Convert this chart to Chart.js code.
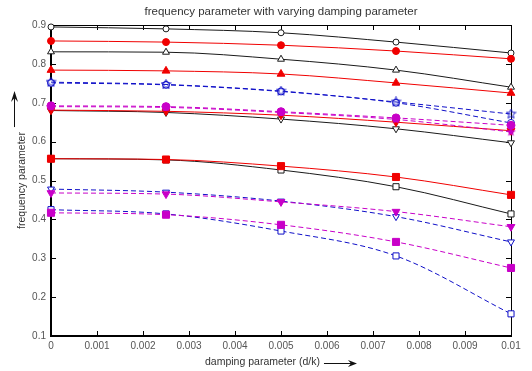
<!DOCTYPE html>
<html lang="en">
  <head>
    <meta charset="UTF-8" />
    <meta name="viewport" content="width=device-width, initial-scale=1.0" />
    <title>Frequency parameter vs damping parameter</title>
    <style>
      html,
      body {
        margin: 0;
        padding: 0;
        background: #fff;
      }
    </style>
    <script src="https://cdn.jsdelivr.net/npm/chart.js"></script>
  </head>
  <body>
    <canvas id="freqChart" width="532" height="371"></canvas>
    <script>
      // damping parameter (d/k) at which the frequency parameter was computed
      var damping = [0, 0.0025, 0.005, 0.0075, 0.01];

      var xTicks = [0, 0.001, 0.002, 0.003, 0.004, 0.005, 0.006, 0.007, 0.008, 0.009, 0.01];
      var yTicks = [0.1, 0.2, 0.3, 0.4, 0.5, 0.6, 0.7, 0.8, 0.9];

      // solid curves (black open markers / red filled markers)
      var blackCircle = [0.895, 0.89, 0.88, 0.856, 0.828];
      var redCircle = [0.859, 0.856, 0.848, 0.833, 0.813];
      var blackTriUp = [0.831, 0.83, 0.812, 0.784, 0.74];
      var redTriUp = [0.784, 0.782, 0.774, 0.751, 0.725];
      var blackTriDown = [0.68, 0.675, 0.658, 0.633, 0.597];
      var redTriDown = [0.681, 0.678, 0.668, 0.65, 0.628];
      var blackSquare = [0.556, 0.553, 0.527, 0.484, 0.414];
      var redSquare = [0.556, 0.554, 0.537, 0.509, 0.463];

      // dashed curves (blue open markers / magenta filled markers)
      var bluePentagram = [0.753, 0.747, 0.73, 0.702, 0.671];
      var blueCircle = [0.751, 0.746, 0.729, 0.7, 0.648];
      var magentaCircle = [0.692, 0.69, 0.677, 0.661, 0.642];
      var magentaPentagram = [0.69, 0.688, 0.675, 0.657, 0.625];
      var blueTriDown = [0.478, 0.47, 0.447, 0.407, 0.342];
      var magentaTriDown = [0.468, 0.465, 0.445, 0.42, 0.381];
      var blueSquare = [0.425, 0.414, 0.37, 0.306, 0.157];
      var magentaSquare = [0.417, 0.412, 0.386, 0.342, 0.275];

      var BLACK = "#1a1a1a";
      var RED = "#f00000";
      var BLUE = "#1010c8";
      var MAGENTA = "#c800c8";

      function pentagram(color, filled) {
        var c = document.createElement("canvas");
        c.width = 11;
        c.height = 11;
        var g = c.getContext("2d");
        g.beginPath();
        for (var i = 0; i < 10; i++) {
          var r = i % 2 ? 2.2 : 5;
          var a = -Math.PI / 2 + (i * Math.PI) / 5;
          g.lineTo(5.5 + r * Math.cos(a), 5.5 + r * Math.sin(a));
        }
        g.closePath();
        if (filled) {
          g.fillStyle = color;
          g.fill();
        } else {
          g.strokeStyle = color;
          g.lineWidth = 1;
          g.stroke();
        }
        return c;
      }

      function series(values, color, marker, filled, dashed, radius, order) {
        var style = marker;
        var rotation = 0;
        if (marker === "triDown") {
          style = "triangle";
          rotation = 180;
        }
        if (marker === "pentagram") style = pentagram(color, filled);
        return {
          data: damping.map(function (x, i) {
            return { x: x, y: values[i] };
          }),
          borderColor: color,
          borderWidth: 1,
          borderDash: dashed ? [5, 3] : [],
          cubicInterpolationMode: "monotone",
          pointStyle: style,
          pointRotation: rotation,
          pointRadius: radius,
          pointBorderWidth: 1,
          pointBorderColor: color,
          pointBackgroundColor: filled ? color : "#fff",
          fill: false,
          clip: false,
          order: order,
        };
      }

      function fmt(v) {
        return String(+v.toFixed(4));
      }

      // box, inward tick marks and axis captions
      var axesBox = {
        id: "axesBox",
        beforeDatasetsDraw: function (chart) {
          var ctx = chart.ctx;
          var a = chart.chartArea;
          var xs = chart.scales.x;
          var ys = chart.scales.y;
          ctx.save();
          ctx.strokeStyle = "#000";
          ctx.lineWidth = 1;
          ctx.beginPath();
          ctx.moveTo(a.left, a.top + 0.5);
          ctx.lineTo(a.right + 0.5, a.top + 0.5);
          ctx.lineTo(a.right + 0.5, a.bottom);
          xTicks.forEach(function (v) {
            var px = Math.round(xs.getPixelForValue(v)) + 0.5;
            ctx.moveTo(px, a.bottom);
            ctx.lineTo(px, a.bottom - 5);
            ctx.moveTo(px, a.top);
            ctx.lineTo(px, a.top + 5);
          });
          yTicks.forEach(function (v) {
            var py = Math.round(ys.getPixelForValue(v)) + 0.5;
            ctx.moveTo(a.left, py);
            ctx.lineTo(a.left + 5, py);
            ctx.moveTo(a.right, py);
            ctx.lineTo(a.right - 5, py);
          });
          ctx.stroke();
          ctx.lineWidth = 2;
          ctx.beginPath();
          ctx.moveTo(a.left, a.top);
          ctx.lineTo(a.left, a.bottom);
          ctx.lineTo(a.right + 1, a.bottom);
          ctx.stroke();
          ctx.restore();
        },
        afterDraw: function (chart) {
          var ctx = chart.ctx;
          var a = chart.chartArea;
          var cx = (a.left + a.right) / 2;
          var cy = (a.top + a.bottom) / 2;
          ctx.save();
          ctx.fillStyle = "#333";
          ctx.strokeStyle = "#111";
          ctx.textBaseline = "middle";

          ctx.font = "11.5px 'Liberation Sans', Arial, sans-serif";
          ctx.textAlign = "center";
          ctx.fillText("frequency parameter with varying damping parameter", cx, 12);

          // x caption with arrow to the right
          ctx.font = "10.5px 'Liberation Sans', Arial, sans-serif";
          var xt = "damping parameter (d/k)";
          var w = ctx.measureText(xt).width;
          var total = w + 4 + 33;
          var sx = cx - total / 2;
          ctx.textAlign = "left";
          ctx.fillText(xt, sx, 362);
          var ax0 = sx + w + 4;
          var ax1 = sx + total;
          ctx.lineWidth = 1;
          ctx.beginPath();
          ctx.moveTo(ax0, 363.5);
          ctx.lineTo(ax1 - 6, 363.5);
          ctx.stroke();
          ctx.fillStyle = "#111";
          ctx.beginPath();
          ctx.moveTo(ax1, 363.5);
          ctx.lineTo(ax1 - 9, 360);
          ctx.lineTo(ax1 - 6, 363.5);
          ctx.lineTo(ax1 - 9, 367);
          ctx.closePath();
          ctx.fill();

          // y caption, rotated, with arrow pointing up
          ctx.fillStyle = "#333";
          var yt = "frequency parameter";
          var wy = ctx.measureText(yt).width;
          ctx.save();
          ctx.translate(22, cy);
          ctx.rotate(-Math.PI / 2);
          ctx.textAlign = "center";
          ctx.fillText(yt, 0, 0);
          ctx.restore();
          var top = cy - wy / 2;
          ctx.beginPath();
          ctx.moveTo(14.5, top - 5);
          ctx.lineTo(14.5, top - 34);
          ctx.stroke();
          ctx.fillStyle = "#111";
          ctx.beginPath();
          ctx.moveTo(14.5, top - 41);
          ctx.lineTo(11, top - 30);
          ctx.lineTo(14.5, top - 34);
          ctx.lineTo(18, top - 30);
          ctx.closePath();
          ctx.fill();
          ctx.restore();
        },
      };

      var ctx = document.getElementById("freqChart").getContext("2d");
      var freqChart = new Chart(ctx, {
        type: "line",
        data: {
          datasets: [
            series(blackCircle, BLACK, "circle", false, false, 3, 6),
            series(redCircle, RED, "circle", true, false, 3.5, 5),
            series(blackTriUp, BLACK, "triangle", false, false, 4, 6),
            series(redTriUp, RED, "triangle", true, false, 4.5, 5),
            series(blackTriDown, BLACK, "triDown", false, false, 4, 6),
            series(redTriDown, RED, "triDown", true, false, 4.5, 5),
            series(blackSquare, BLACK, "rect", false, false, 4.3, 6),
            series(redSquare, RED, "rect", true, false, 5, 5),
            series(bluePentagram, BLUE, "pentagram", false, true, 4, 4),
            series(blueCircle, BLUE, "circle", false, true, 3.5, 4),
            series(magentaCircle, MAGENTA, "circle", true, true, 4, 3),
            series(magentaPentagram, MAGENTA, "pentagram", true, true, 4, 3),
            series(blueTriDown, BLUE, "triDown", false, true, 4, 4),
            series(magentaTriDown, MAGENTA, "triDown", true, true, 4.5, 3),
            series(blueSquare, BLUE, "rect", false, true, 4.3, 4),
            series(magentaSquare, MAGENTA, "rect", true, true, 5, 3),
          ],
        },
        options: {
          responsive: false,
          animation: false,
          layout: { padding: { top: 25, right: 21, bottom: 0, left: 0 } },
          plugins: {
            legend: { display: false },
            title: { display: false },
            tooltip: { enabled: false },
          },
          scales: {
            x: {
              type: "linear",
              min: 0,
              max: 0.01,
              afterBuildTicks: function (scale) {
                scale.ticks = xTicks.map(function (v) {
                  return { value: v };
                });
              },
              afterFit: function (scale) {
                scale.height = 35;
              },
              grid: { display: false, drawTicks: false },
              border: { display: false },
              ticks: {
                autoSkip: false,
                maxRotation: 0,
                padding: 4,
                color: "#555",
                font: { family: "'Liberation Sans', Arial, sans-serif", size: 10 },
                callback: fmt,
              },
            },
            y: {
              type: "linear",
              min: 0.1,
              max: 0.9,
              afterBuildTicks: function (scale) {
                scale.ticks = yTicks.map(function (v) {
                  return { value: v };
                });
              },
              afterFit: function (scale) {
                scale.width = 51;
              },
              grid: { display: false, drawTicks: false },
              border: { display: false },
              ticks: {
                autoSkip: false,
                padding: 5,
                color: "#555",
                font: { family: "'Liberation Sans', Arial, sans-serif", size: 10 },
                callback: fmt,
              },
            },
          },
        },
        plugins: [axesBox],
      });
    </script>
  </body>
</html>
